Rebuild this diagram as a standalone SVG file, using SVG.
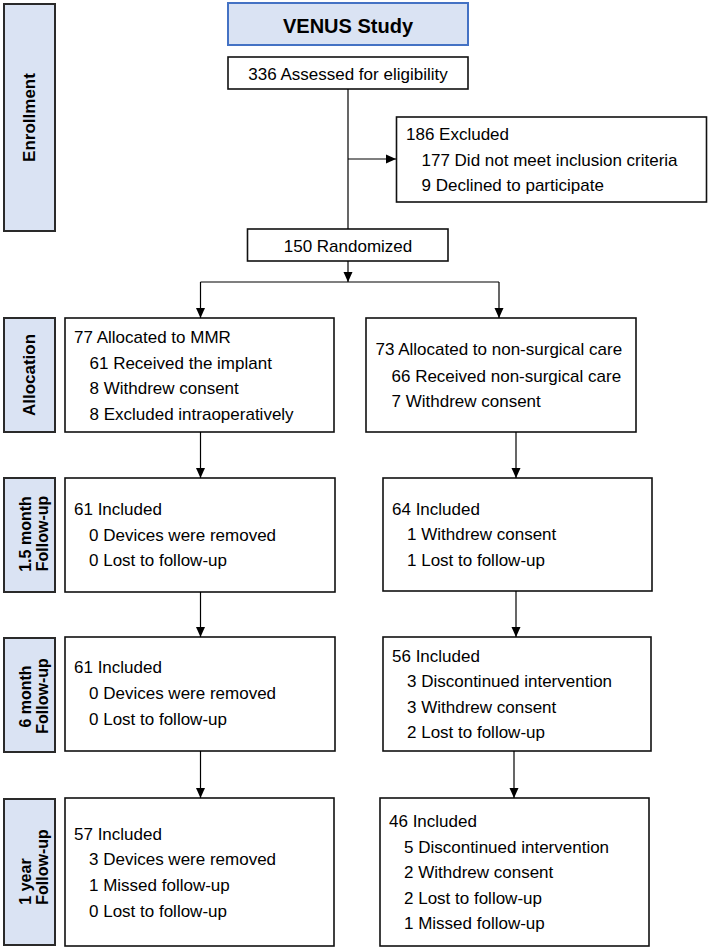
<svg xmlns="http://www.w3.org/2000/svg" width="708" height="948" viewBox="0 0 708 948">
<defs>
<marker id="ah" viewBox="0 0 10 10" refX="10" refY="5" markerWidth="10" markerHeight="10" markerUnits="userSpaceOnUse" orient="auto">
<path d="M0,0.5 L10,5 L0,9.5 Z" fill="#000"/>
</marker>
<style>
.side rect{fill:#dae3f3;stroke:#2a2a2a;stroke-width:2}
.side text{font-family:"Liberation Sans",Arial,sans-serif;font-weight:bold;font-size:17px;fill:#000;text-anchor:middle}
.side text.two{font-size:16px}
.box rect{fill:#fff;stroke:#111;stroke-width:1.6}
.box text{font-family:"Liberation Sans",Arial,sans-serif;font-size:17px;fill:#000}
.c{text-anchor:middle}
.conn line,.conn path{stroke:#000;stroke-width:1.2;fill:none}
.arr{marker-end:url(#ah)}
</style>
</defs>
<rect width="708" height="948" fill="#fff"/>

<g id="side-enrollment" class="side"><rect x="4" y="4" width="51" height="227"/><text transform="translate(35,117.5) rotate(-90)">Enrollment</text></g>
<g id="side-allocation" class="side"><rect x="4" y="318" width="51" height="114"/><text transform="translate(35,375) rotate(-90)">Allocation</text></g>
<g id="side-15month" class="side"><rect x="4" y="478" width="51" height="114"/><text class="two" transform="translate(31,534) rotate(-90)">1.5 month</text><text class="two" transform="translate(47.5,533.5) rotate(-90)">Follow-up</text></g>
<g id="side-6month" class="side"><rect x="4" y="638" width="51" height="114"/><text class="two" transform="translate(31,696.5) rotate(-90)">6 month</text><text class="two" transform="translate(47.5,696) rotate(-90)">Follow-up</text></g>
<g id="side-1year" class="side"><rect x="4" y="799" width="51" height="146"/><text class="two" transform="translate(31,881.5) rotate(-90)">1 year</text><text class="two" transform="translate(47.5,867) rotate(-90)">Follow-up</text></g>

<g id="venus"><rect x="228" y="3" width="240" height="42" fill="#dae3f3" stroke="#4472c4" stroke-width="2"/><text x="348" y="33" text-anchor="middle" font-family="Liberation Sans,Arial,sans-serif" font-weight="bold" font-size="20">VENUS Study</text></g>

<g id="assessed" class="box"><rect x="228" y="57" width="240" height="32"/><text class="c" x="348" y="79.5">336 Assessed for eligibility</text></g>

<g id="excluded" class="box"><rect x="396.5" y="117" width="310" height="85"/>
<text x="406" y="140">186 Excluded</text>
<text x="421.5" y="166">177 Did not meet inclusion criteria</text>
<text x="421.5" y="191">9 Declined to participate</text></g>

<g id="randomized" class="box"><rect x="247.5" y="229" width="200.5" height="32"/><text class="c" x="348" y="252">150 Randomized</text></g>

<g id="alloc-mmr" class="box"><rect x="65" y="318" width="269" height="114"/>
<text x="74" y="343">77 Allocated to MMR</text>
<text x="89.5" y="368.5">61 Received the implant</text>
<text x="89.5" y="394">8 Withdrew consent</text>
<text x="89.5" y="420">8 Excluded intraoperatively</text></g>

<g id="alloc-nonsurg" class="box"><rect x="366" y="318" width="270" height="114"/>
<text x="375.5" y="355">73 Allocated to non-surgical care</text>
<text x="391.5" y="381.5">66 Received non-surgical care</text>
<text x="391.5" y="406.5">7 Withdrew consent</text></g>

<g id="fu15-mmr" class="box"><rect x="65" y="478" width="270" height="114"/>
<text x="74" y="515">61 Included</text>
<text x="89" y="540.5">0 Devices were removed</text>
<text x="89" y="566">0 Lost to follow-up</text></g>

<g id="fu15-nonsurg" class="box"><rect x="383" y="478" width="269" height="113"/>
<text x="392" y="514.5">64 Included</text>
<text x="407" y="540">1 Withdrew consent</text>
<text x="407" y="566">1 Lost to follow-up</text></g>

<g id="fu6-mmr" class="box"><rect x="65" y="637" width="270" height="114"/>
<text x="74" y="673">61 Included</text>
<text x="89" y="699">0 Devices were removed</text>
<text x="89" y="725">0 Lost to follow-up</text></g>

<g id="fu6-nonsurg" class="box"><rect x="383" y="637" width="268" height="114"/>
<text x="392" y="662">56 Included</text>
<text x="407" y="687">3 Discontinued intervention</text>
<text x="407" y="712.5">3 Withdrew consent</text>
<text x="407" y="737.5">2 Lost to follow-up</text></g>

<g id="fu1y-mmr" class="box"><rect x="65" y="798" width="269" height="148"/>
<text x="74" y="839.5">57 Included</text>
<text x="89" y="865">3 Devices were removed</text>
<text x="89" y="891">1 Missed follow-up</text>
<text x="89" y="916.5">0 Lost to follow-up</text></g>

<g id="fu1y-nonsurg" class="box"><rect x="380" y="798" width="269" height="148"/>
<text x="389" y="827">46 Included</text>
<text x="404" y="852.5">5 Discontinued intervention</text>
<text x="404" y="878">2 Withdrew consent</text>
<text x="404" y="903.5">2 Lost to follow-up</text>
<text x="404" y="929">1 Missed follow-up</text></g>

<g id="connectors" class="conn">
<line x1="348" y1="89" x2="348" y2="229"/>
<line class="arr" x1="348" y1="159" x2="396" y2="159"/>
<line class="arr" x1="348" y1="261" x2="348" y2="282"/>
<line x1="200.5" y1="282" x2="499" y2="282"/>
<line class="arr" x1="200.5" y1="282" x2="200.5" y2="318"/>
<line class="arr" x1="499" y1="282" x2="499" y2="318"/>
<line class="arr" x1="200.5" y1="432" x2="200.5" y2="478"/>
<line class="arr" x1="516" y1="432" x2="516" y2="478"/>
<line class="arr" x1="200.5" y1="592" x2="200.5" y2="637"/>
<line class="arr" x1="516" y1="591" x2="516" y2="637"/>
<line class="arr" x1="200.5" y1="751" x2="200.5" y2="798"/>
<line class="arr" x1="514" y1="751" x2="514" y2="798"/>
</g>
</svg>
